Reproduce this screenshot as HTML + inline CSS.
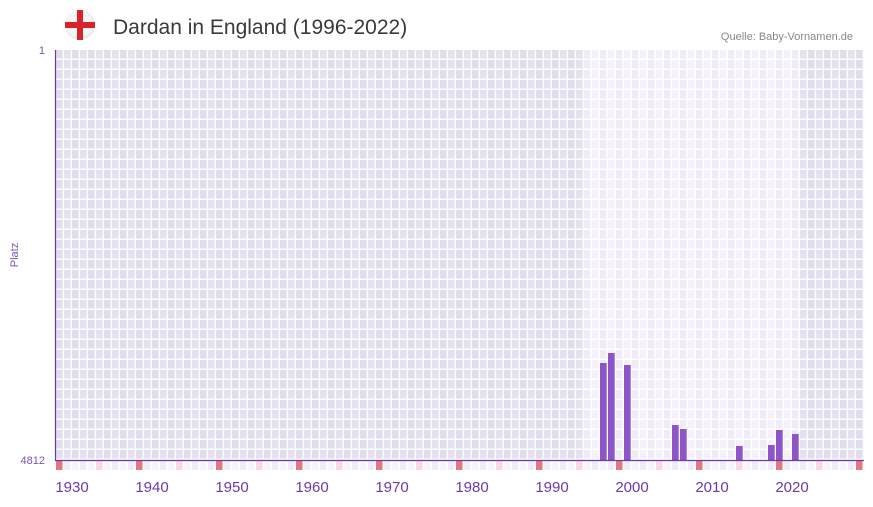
<!DOCTYPE html>
<html><head><meta charset="utf-8"><style>
body{margin:0;background:#fff;width:873px;height:502px;overflow:hidden;font-family:"Liberation Sans","DejaVu Sans",sans-serif}
</style></head><body>
<svg width="873" height="502" xmlns="http://www.w3.org/2000/svg">
<defs>
<pattern id="pd" x="56" y="50" width="16" height="10" patternUnits="userSpaceOnUse">
<rect width="16" height="10" fill="#fbfafd"/>
<rect x="0" y="0" width="6.5" height="8.5" fill="#e1ddeb"/>
<rect x="8" y="0" width="6.5" height="8.5" fill="#e5e1ee"/>
</pattern>
<pattern id="pl" x="56" y="50" width="16" height="10" patternUnits="userSpaceOnUse">
<rect width="16" height="10" fill="#fff"/>
<rect x="0" y="0" width="6.5" height="8.5" fill="#efebf9"/>
<rect x="8" y="0" width="6.5" height="8.5" fill="#f4f1fc"/>
</pattern>
<pattern id="ps" x="56" y="461" width="16" height="10" patternUnits="userSpaceOnUse">
<rect width="16" height="10" fill="#fff"/>
<rect x="0" y="0" width="6.5" height="9" fill="#f6f4fc"/>
<rect x="8" y="0" width="6.5" height="9" fill="#efecf8"/>
</pattern>
</defs>
<circle cx="80" cy="25" r="15" fill="#ececec"/>
<circle cx="79" cy="24" r="13.5" fill="#f6f6f6"/>
<rect x="77" y="10" width="6" height="30" fill="#d8232a"/>
<rect x="65" y="22" width="30" height="6" fill="#d8232a"/>
<text x="113" y="34" font-size="21" fill="#3a3a3a" font-family="Liberation Sans, sans-serif">Dardan in England (1996-2022)</text>
<text x="853" y="40" font-size="11" fill="#888" text-anchor="end">Quelle: Baby-Vornamen.de</text>

<rect x="56" y="50" width="528" height="410" fill="url(#pd)"/>
<rect x="584" y="50" width="216" height="410" fill="url(#pl)"/>
<rect x="800" y="50" width="64" height="410" fill="url(#pd)"/>
<rect x="56" y="461" width="808" height="9" fill="url(#ps)"/>
<g fill="#e8747c">
<rect x="56" y="461" width="6.5" height="9"/><rect x="136" y="461" width="6.5" height="9"/><rect x="216" y="461" width="6.5" height="9"/><rect x="296" y="461" width="6.5" height="9"/><rect x="376" y="461" width="6.5" height="9"/><rect x="456" y="461" width="6.5" height="9"/><rect x="536" y="461" width="6.5" height="9"/><rect x="616" y="461" width="6.5" height="9"/><rect x="696" y="461" width="6.5" height="9"/><rect x="776" y="461" width="6.5" height="9"/><rect x="856" y="461" width="6.5" height="9"/>
</g>
<g fill="#f7d9e3">
<rect x="96" y="461" width="6.5" height="9"/><rect x="176" y="461" width="6.5" height="9"/><rect x="256" y="461" width="6.5" height="9"/><rect x="336" y="461" width="6.5" height="9"/><rect x="416" y="461" width="6.5" height="9"/><rect x="496" y="461" width="6.5" height="9"/><rect x="576" y="461" width="6.5" height="9"/><rect x="656" y="461" width="6.5" height="9"/><rect x="736" y="461" width="6.5" height="9"/><rect x="816" y="461" width="6.5" height="9"/>
</g>
<g fill="#8e55c8">
<rect x="600" y="363" width="6.7" height="97"/>
<rect x="608" y="353" width="6.7" height="107"/>
<rect x="624" y="365" width="6.7" height="95"/>
<rect x="672" y="425" width="6.7" height="35"/>
<rect x="680" y="429" width="6.7" height="31"/>
<rect x="736" y="446" width="6.7" height="14"/>
<rect x="768" y="445" width="6.7" height="15"/>
<rect x="776" y="430" width="6.7" height="30"/>
<rect x="792" y="434" width="6.7" height="26"/>
</g>
<line x1="55.5" y1="50" x2="55.5" y2="461" stroke="#6a3aa8" stroke-width="1.2"/>
<line x1="55" y1="460.5" x2="864" y2="460.5" stroke="#6a3aa8" stroke-width="1.2"/>
<text x="45" y="54" font-size="11" fill="#7a55b0" text-anchor="end">1</text>
<text x="45" y="464" font-size="11" fill="#7a55b0" text-anchor="end">4812</text>
<text transform="translate(18,255) rotate(-90)" font-size="11" fill="#7a55b0" text-anchor="middle">Platz</text>
<g font-size="15" fill="#6a3aa8" text-anchor="middle">
<text x="72" y="492">1930</text><text x="152" y="492">1940</text><text x="232" y="492">1950</text><text x="312" y="492">1960</text><text x="392" y="492">1970</text><text x="472" y="492">1980</text><text x="552" y="492">1990</text><text x="632" y="492">2000</text><text x="712" y="492">2010</text><text x="792" y="492">2020</text>
</g>
</svg>
</body></html>
